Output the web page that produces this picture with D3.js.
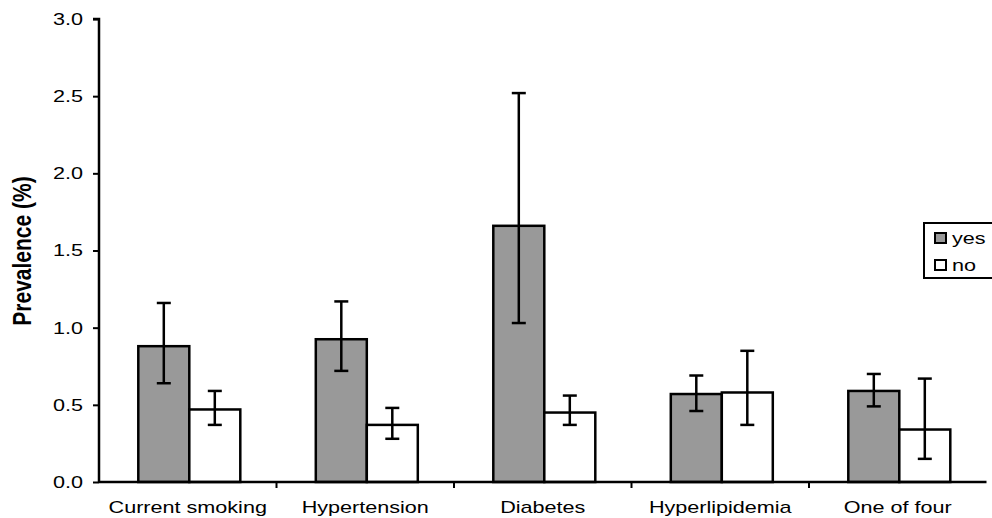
<!DOCTYPE html>
<html><head><meta charset="utf-8">
<script src="https://cdn.jsdelivr.net/npm/d3@7"></script>
<style>body{margin:0;background:#fff}svg{display:block}</style>
</head><body>
<svg id="c" width="992" height="518"></svg>
<script>
const categories = ["Current smoking","Hypertension","Diabetes","Hyperlipidemia","One of four"];
const seriesNames = ["yes","no"];
const yesValues = [0.88,0.925,1.66,0.57,0.59];
const yesLow = [0.64,0.72,1.03,0.46,0.49];
const yesHigh = [1.16,1.17,2.52,0.69,0.70];
const noValues = [0.47,0.37,0.45,0.58,0.34];
const noLow = [0.37,0.28,0.37,0.37,0.15];
const noHigh = [0.59,0.48,0.56,0.85,0.67];
const yTicks = [0,0.5,1.0,1.5,2.0,2.5,3.0];
const colors = {yes:"#999999", no:"#ffffff"};

const FONT = "Liberation Sans, Arial, sans-serif";
const SX = 1.27;
const svg = d3.select("#c");
const left = 99;
const x = d3.scaleBand().domain(categories).range([left, 986.5]).paddingInner(0).paddingOuter(0);
const xs = d3.scaleBand().domain(seriesNames).range([39.3, 141.3]).paddingInner(0).paddingOuter(0);
const y = d3.scaleLinear().domain([0,3]).range([482, 19]);

const data = [];
categories.forEach((c,i)=>{
  data.push({c, s:"yes", v:yesValues[i], lo:yesLow[i], hi:yesHigh[i]});
  data.push({c, s:"no", v:noValues[i], lo:noLow[i], hi:noHigh[i]});
});

// bars
svg.append("g").selectAll("rect").data(data).join("rect")
  .attr("x", d=>x(d.c)+xs(d.s)).attr("width", xs.bandwidth())
  .attr("y", d=>y(d.v)).attr("height", d=>y(0)-y(d.v))
  .attr("fill", d=>colors[d.s]).attr("stroke","#000").attr("stroke-width",2.5);

// error bars
const eg = svg.append("g").attr("stroke","#000").attr("stroke-width",2.5);
data.forEach(d=>{
  const cx = x(d.c)+xs(d.s)+xs.bandwidth()/2;
  eg.append("line").attr("x1",cx).attr("x2",cx).attr("y1",y(d.lo)).attr("y2",y(d.hi));
  eg.append("line").attr("x1",cx-7).attr("x2",cx+7).attr("y1",y(d.lo)).attr("y2",y(d.lo));
  eg.append("line").attr("x1",cx-7).attr("x2",cx+7).attr("y1",y(d.hi)).attr("y2",y(d.hi));
});

// y axis
const ya = svg.append("g").attr("transform",`translate(${left},0)`)
  .call(d3.axisLeft(y).tickValues(yTicks).tickFormat(d3.format(".1f")).tickSize(6).tickPadding(0));
ya.select(".domain").attr("stroke","#000").attr("stroke-width",2.5).attr("d",`M-6,${y(3)}H0V${y(0)}`);
ya.selectAll(".tick line").attr("stroke-width",2);
ya.selectAll(".tick text").attr("x",0).attr("font-family",FONT).attr("font-size",17).attr("fill","#000")
  .attr("transform",`translate(-16,0) scale(${SX},1)`);

// x axis
const xa = svg.append("g").attr("transform",`translate(0,${y(0)})`)
  .call(d3.axisBottom(x).tickSize(0).tickPadding(0));
xa.select(".domain").attr("stroke","#000").attr("stroke-width",2.5).attr("d",`M${left},0H986.5`);
xa.selectAll(".tick text").attr("y",0).attr("dy",0).attr("font-family",FONT).attr("font-size",17).attr("fill","#000")
  .attr("transform",`translate(0,31) scale(${SX},1)`);
svg.append("g").selectAll("line").data(categories.slice(1)).join("line")
  .attr("x1",d=>x(d)).attr("x2",d=>x(d)).attr("y1",y(0)).attr("y2",y(0)+6)
  .attr("stroke","#000").attr("stroke-width",2);

// y label
svg.append("text").attr("transform",`translate(31,251) scale(${SX},1) rotate(-90)`)
  .attr("text-anchor","middle").attr("font-family",FONT)
  .attr("font-weight","bold").attr("font-size",21).text("Prevalence (%)");

// legend
const lg = svg.append("g");
lg.append("rect").attr("x",924).attr("y",223).attr("width",72).attr("height",55)
  .attr("fill","#fff").attr("stroke","#000").attr("stroke-width",2);
seriesNames.forEach((s,i)=>{
  const yy = 238 + i*27;
  lg.append("rect").attr("x",935).attr("y",yy-5).attr("width",11).attr("height",10)
    .attr("fill",colors[s]).attr("stroke","#000").attr("stroke-width",2);
  lg.append("text").attr("transform",`translate(952,${yy+6}) scale(${SX},1)`).attr("font-family",FONT)
    .attr("font-size",17).text(s);
});
</script>
</body></html>
